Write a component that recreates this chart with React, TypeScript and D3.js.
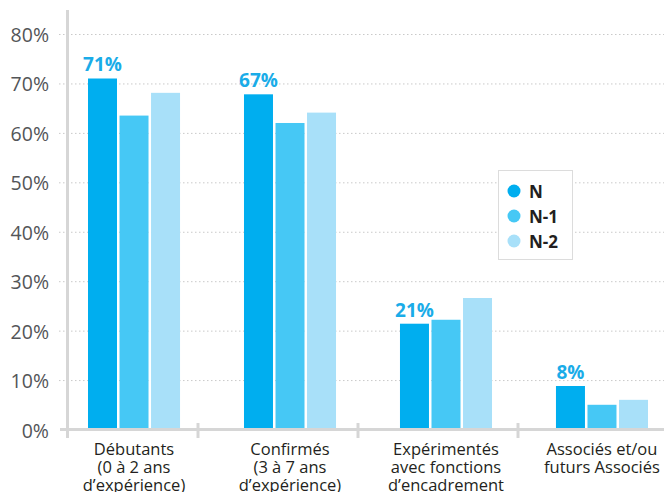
import React from "react";
import * as d3 from "d3";

const categories: string[][] = [
  ["Débutants", "(0 à 2 ans", "d’expérience)"],
  ["Confirmés", "(3 à 7 ans", "d’expérience)"],
  ["Expérimentés", "avec fonctions", "d’encadrement"],
  ["Associés et/ou", "futurs Associés"],
];
const catKeys = ["deb", "conf", "exp", "assoc"];
const seriesNames = ["N", "N-1", "N-2"];
const valuesN = [71.1, 67.9, 21.5, 8.9];
const valuesN1 = [63.6, 62.1, 22.3, 5.1];
const valuesN2 = [68.2, 64.2, 26.7, 6.1];
const labelsN = ["71%", "67%", "21%", "8%"];
const yTicks = [0, 10, 20, 30, 40, 50, 60, 70, 80];
const colors = ["#00AEEF", "#46C8F5", "#A8E0F9"];

const W = 664;
const H = 492;
const FONT = "'Open Sans', Lato, sans-serif";

export default function App() {
  const y = d3.scaleLinear().domain([0, 80]).range([430, 34.5]);
  const x0 = d3.scaleBand<string>().domain(catKeys).range([88, 648]).paddingInner(0.41).paddingOuter(0);
  const x1 = d3.scaleBand<string>().domain(seriesNames).range([0, x0.bandwidth()]).paddingInner(0.08);
  const tickScale = d3.scaleBand<string>().domain(catKeys).range([38, 678]);
  const series = [valuesN, valuesN1, valuesN2];
  const axisColor = "#d6d6d6";

  return (
    <svg width={W} height={H} style={{ position: "absolute", left: 0, top: 0, background: "#fff" }}>
      {/* gridlines */}
      {yTicks.filter((t) => t > 0).map((t) => (
        <line key={"g" + t} x1={59} x2={W} y1={y(t)} y2={y(t)} stroke="#c9c9c9" strokeWidth={1} strokeDasharray="1.5,2.5" />
      ))}
      {/* y labels */}
      {yTicks.map((t) => (
        <text key={"yl" + t} x={49} y={y(t)} textAnchor="end" dominantBaseline="central" fontFamily={FONT} fontSize={19.5} fontWeight={500} fill="#535558">
          {t + "%"}
        </text>
      ))}
      {/* bars */}
      {catKeys.map((c, i) => (
        <g key={c} transform={`translate(${x0(c)},0)`}>
          {seriesNames.map((s, j) => (
            <rect key={s} x={x1(s)} y={y(series[j][i])} width={x1.bandwidth()} height={y(0) - y(series[j][i])} fill={colors[j]} />
          ))}
          <text x={(x1("N") as number) + x1.bandwidth() / 2} y={y(valuesN[i]) - 7} textAnchor="middle" fontFamily={FONT} fontWeight={700} fontSize={19} fill="#1AACE8">
            {labelsN[i]}
          </text>
        </g>
      ))}
      {/* axes */}
      <line x1={60} x2={W} y1={429.5} y2={429.5} stroke={axisColor} strokeWidth={3} />
      <line x1={67.5} x2={67.5} y1={10} y2={438} stroke={axisColor} strokeWidth={3} />
      {catKeys.slice(1).map((c) => (
        <line key={"t" + c} x1={tickScale(c)} x2={tickScale(c)} y1={423} y2={438} stroke={axisColor} strokeWidth={3} />
      ))}
      {/* x labels */}
      {catKeys.map((c, i) => (
        <text key={"xl" + c} textAnchor="middle" fontFamily={FONT} fontSize={16.5} fontWeight={500} fill="#231f20">
          {categories[i].map((line, k) => (
            <tspan key={k} x={(x0(c) as number) + x0.bandwidth() / 2} y={455 + k * 17.8}>
              {line}
            </tspan>
          ))}
        </text>
      ))}
      {/* legend */}
      <rect x={498.5} y={170.5} width={74} height={89} fill="#fff" stroke="#dcdcdc" strokeWidth={1} />
      {seriesNames.map((s, j) => (
        <g key={"lg" + s} transform={`translate(0, ${191 + j * 25})`}>
          <circle cx={514} cy={0} r={6.5} fill={colors[j]} />
          <text x={529} y={0} dominantBaseline="central" fontFamily={FONT} fontWeight={700} fontSize={17} fill="#231f20">
            {s}
          </text>
        </g>
      ))}
    </svg>
  );
}
